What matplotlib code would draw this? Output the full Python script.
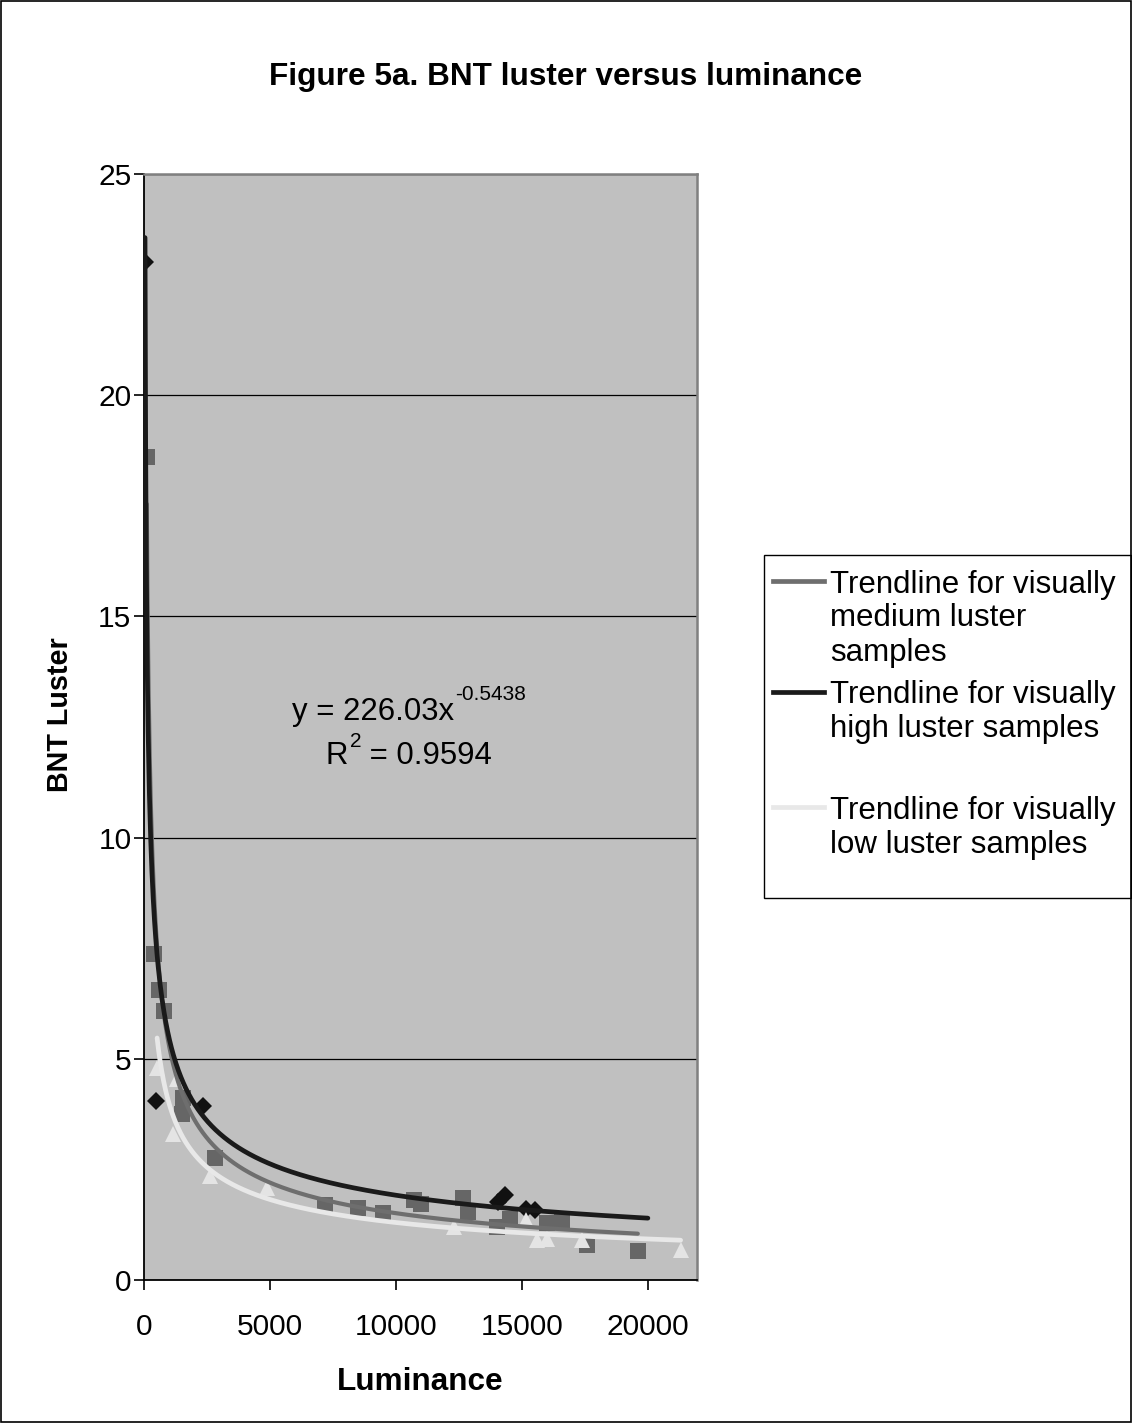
import numpy as np
import matplotlib
matplotlib.use("Agg")
import matplotlib.pyplot as plt
from matplotlib.lines import Line2D
from matplotlib.patches import Rectangle

plt.rcParams['font.family'] = ['Liberation Sans', 'DejaVu Sans']

# ---- data ----
medium_lum = [110, 400, 600, 800, 1500, 1550, 2820, 7180, 8500, 9490, 10700, 11000,
              12660, 12860, 14000, 14520, 16000, 16600, 17600, 19600]
medium_val = [18.6, 7.37, 6.56, 6.08, 3.76, 4.12, 2.76, 1.70, 1.63, 1.52, 1.80, 1.72,
              1.85, 1.54, 1.20, 1.38, 1.29, 1.30, 0.80, 0.66]

high_lum = [40, 480, 2340, 14050, 14330, 15160, 15520]
high_val = [23.0, 4.05, 3.94, 1.77, 1.92, 1.60, 1.58]

low_lum = [520, 1150, 1300, 2620, 4880, 12300, 15150, 15600, 16000, 17400, 21300]
low_val = [4.8, 3.3, 4.55, 2.36, 2.08, 1.20, 1.36, 0.90, 0.93, 0.90, 0.68]

# power trendlines y = a * x^b (medium one is the equation shown on the chart)
medium_a, medium_b = 226.03, -0.5438
medium_r2 = 0.9594
high_a, high_b = 126.0, -0.4545
low_a, low_b = 114.5, -0.4863
high_trend_end = 20000

legend_labels = [
    ["Trendline for visually", "medium luster", "samples"],
    ["Trendline for visually", "high luster samples"],
    ["Trendline for visually", "low luster samples"],
]

x_ticks = [0, 5000, 10000, 15000, 20000]
y_ticks = [0, 5, 10, 15, 20, 25]

W, H = 1132, 1423
fig = plt.figure(figsize=(W / 100, H / 100), dpi=100)
fig.patch.set_facecolor('white')

def fx(px):
    return px / W

def fy(py):
    return 1 - py / H

L, R, T, B = 144, 697, 174, 1280
ax = fig.add_axes([fx(L), fy(B), (R - L) / W, (B - T) / H])
ax.set_facecolor('#c0c0c0')
ax.set_xlim(0, 21950)
ax.set_ylim(0, 25)
ax.set_xticks(x_ticks)
ax.set_yticks(y_ticks)
ax.tick_params(axis='both', labelsize=21.5, direction='out', length=7, width=1.2,
               colors='black')
ax.tick_params(axis='y', pad=2)
ax.tick_params(axis='x', pad=17)
ax.yaxis.grid(True, color='black', linewidth=0.9)
ax.set_axisbelow(True)
for s in ['left', 'bottom']:
    ax.spines[s].set_color('black')
    ax.spines[s].set_linewidth(1.3)
for s in ['top', 'right']:
    ax.spines[s].set_color('#808080')
    ax.spines[s].set_linewidth(1.8)

# markers
ax.plot(medium_lum, medium_val, linestyle='none', marker='s', markersize=11.5,
        color='#666666', markeredgewidth=0, zorder=3)
ax.plot(high_lum, high_val, linestyle='none', marker='D', markersize=9.5,
        color='#111111', markeredgewidth=0, zorder=3)
ax.plot(low_lum, low_val, linestyle='none', marker='^', markersize=12,
        color='#e4e4e4', markeredgewidth=0, zorder=3)

# trendlines
xm = np.linspace(min(medium_lum), max(medium_lum), 800)
ax.plot(xm, medium_a * xm ** medium_b, color='#6e6e6e', linewidth=3.0,
        solid_capstyle='round', zorder=4)
xh = np.linspace(min(high_lum), high_trend_end, 800)
ax.plot(xh, high_a * xh ** high_b, color='#1a1a1a', linewidth=3.4,
        solid_capstyle='round', zorder=4)
xl = np.linspace(min(low_lum), max(low_lum), 800)
ax.plot(xl, low_a * xl ** low_b, color='#e8e8e8', linewidth=3.4,
        solid_capstyle='round', zorder=4)

# equation annotation (Excel style: plain text with raised exponent)
fig.text(fx(292), fy(708), f"y = {medium_a:.2f}x", fontsize=22.4,
         ha='left', va='center_baseline', zorder=5)
fig.text(fx(455), fy(693), f"{medium_b:.4f}", fontsize=15, ha='left',
         va='center_baseline', zorder=5)
fig.text(fx(326), fy(753), "R", fontsize=22.4, ha='left', va='center_baseline', zorder=5)
fig.text(fx(350), fy(739), "2", fontsize=15, ha='left', va='center_baseline', zorder=5)
fig.text(fx(361), fy(753), f" = {medium_r2:.4f}", fontsize=22.4, ha='left',
         va='center_baseline', zorder=5)

# axis labels and title
fig.text(fx(420.5), fy(1382), 'Luminance', fontsize=22.7,
         fontweight='bold', ha='center', va='center')
fig.text(fx(60), fy(715), 'BNT Luster', fontsize=20.7,
         fontweight='bold', ha='center', va='center', rotation=90)
fig.text(fx(566), fy(77), 'Figure 5a. BNT luster versus luminance', fontsize=22.7,
         fontweight='bold', ha='center', va='center')

# legend (manual, Excel style)
fig.patches.append(Rectangle((fx(764), fy(898)), (1131 - 764) / W, (898 - 555) / H,
                             transform=fig.transFigure, facecolor='white',
                             edgecolor='black', linewidth=1.0))
leg_colors = ['#6e6e6e', '#1a1a1a', '#e8e8e8']
group_tops = [581, 692, 807]
line_step = 34
for labels, col, ytop in zip(legend_labels, leg_colors, group_tops):
    fig.add_artist(Line2D([fx(773), fx(824)], [fy(ytop), fy(ytop)],
                          transform=fig.transFigure, color=col, linewidth=3.4))
    for i, t in enumerate(labels):
        fig.text(fx(830), fy(ytop + i * line_step), t, fontsize=22.5,
                 ha='left', va='center_baseline')

# outer chart border
fig.patches.append(Rectangle((0.0005, 0.0005), 0.999, 0.999, transform=fig.transFigure,
                             facecolor='none', edgecolor='black', linewidth=1.2))

fig.savefig('out.png', dpi=100)
